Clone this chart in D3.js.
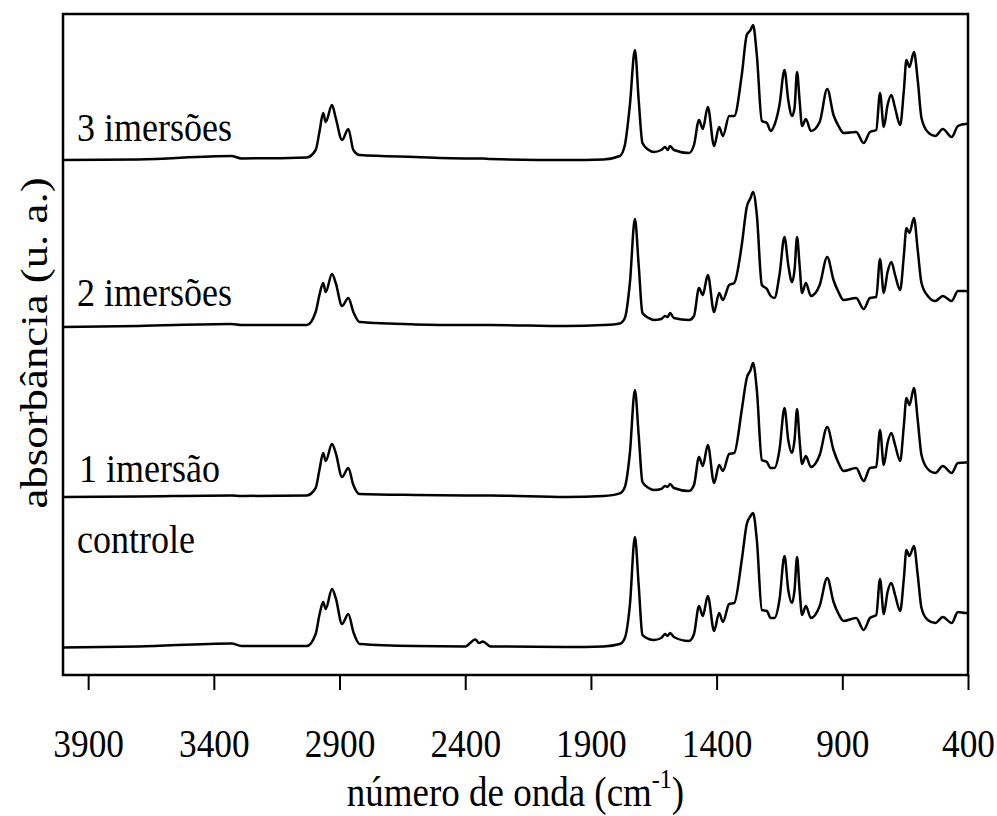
<!DOCTYPE html>
<html>
<head>
<meta charset="utf-8">
<script src="https://cdn.jsdelivr.net/npm/d3@7"></script>
<style>
body { margin: 0; background: #fff; }
svg { display: block; }
text { font-family: "Liberation Serif", "Times New Roman", serif; fill: #000; }
</style>
</head>
<body>
<svg id="chart" width="997" height="816"></svg>
<script>
// wavenumbers (cm-1) shared by every spectrum
const wavenumbers = [4000, 3700, 3330, 3290, 3030, 2995, 2980, 2965, 2955, 2930, 2915, 2890, 2865, 2845, 2820, 2600,
	2400, 2360, 2345, 2330, 2300, 2000, 1850, 1785, 1765, 1745, 1725, 1710, 1695, 1670, 1650, 1620, 1605, 1595, 1585, 1570,
	1510, 1490, 1470, 1455, 1435, 1410, 1390, 1375, 1350, 1330, 1300, 1280, 1265, 1255, 1240, 1220, 1200, 1185, 1170, 1150,
	1130, 1115, 1100, 1090, 1080, 1070, 1060, 1045, 1025, 990, 960, 935, 915, 895, 845, 815, 790, 765, 750, 735, 720, 705,
	690, 670, 655, 645, 633, 615, 600, 585, 560, 530, 500, 465, 440, 410, 400];

// absorbance (u. a.), already stacked as drawn
const controle = [0.138, 0.143, 0.158, 0.145, 0.145, 0.205, 0.300, 0.365, 0.330, 0.430, 0.385, 0.255, 0.305, 0.215, 0.155, 0.145,
	0.143, 0.178, 0.160, 0.168, 0.143, 0.140, 0.143, 0.155, 0.185, 0.350, 0.690, 0.450, 0.200, 0.180, 0.175, 0.185, 0.205, 0.195, 0.210, 0.190,
	0.170, 0.205, 0.345, 0.295, 0.395, 0.220, 0.310, 0.265, 0.355, 0.360, 0.575, 0.755, 0.795, 0.810, 0.675, 0.325, 0.320, 0.285, 0.285, 0.375,
	0.595, 0.425, 0.360, 0.425, 0.590, 0.425, 0.300, 0.345, 0.285, 0.345, 0.485, 0.365, 0.305, 0.270, 0.285, 0.225, 0.285, 0.300, 0.480, 0.305, 0.415, 0.460,
	0.400, 0.320, 0.485, 0.625, 0.595, 0.645, 0.500, 0.335, 0.275, 0.260, 0.290, 0.260, 0.315, 0.310, 0.310];
const imersao1 = [0.890, 0.893, 0.898, 0.895, 0.898, 0.935, 1.025, 1.110, 1.070, 1.155, 1.110, 0.990, 1.035, 0.950, 0.905, 0.900,
	0.898, 0.898, 0.898, 0.898, 0.898, 0.890, 0.895, 0.908, 0.940, 1.110, 1.425, 1.200, 0.965, 0.935, 0.925, 0.930, 0.945, 0.940, 0.955, 0.935,
	0.920, 0.950, 1.090, 1.045, 1.150, 0.960, 1.050, 1.020, 1.105, 1.110, 1.325, 1.485, 1.525, 1.560, 1.425, 1.075, 1.065, 1.035, 1.035, 1.125,
	1.335, 1.175, 1.110, 1.175, 1.330, 1.175, 1.055, 1.095, 1.040, 1.100, 1.240, 1.125, 1.060, 1.020, 1.035, 0.970, 1.035, 1.040, 1.225, 1.050, 1.160, 1.210,
	1.150, 1.070, 1.250, 1.385, 1.350, 1.435, 1.275, 1.100, 1.030, 1.010, 1.045, 1.010, 1.060, 1.063, 1.063];
const imersao2 = [1.740, 1.745, 1.755, 1.750, 1.750, 1.815, 1.900, 1.960, 1.915, 2.005, 1.960, 1.845, 1.885, 1.815, 1.765, 1.753,
	1.750, 1.750, 1.750, 1.750, 1.750, 1.745, 1.750, 1.758, 1.785, 1.960, 2.280, 2.050, 1.810, 1.785, 1.775, 1.780, 1.795, 1.790, 1.810, 1.785,
	1.775, 1.795, 1.935, 1.900, 2.000, 1.815, 1.910, 1.875, 1.950, 1.960, 2.150, 2.340, 2.385, 2.415, 2.300, 1.950, 1.930, 1.895, 1.885, 2.000,
	2.190, 2.050, 1.965, 2.025, 2.190, 2.050, 1.910, 1.960, 1.895, 1.950, 2.090, 1.975, 1.915, 1.875, 1.885, 1.830, 1.885, 1.890, 2.080, 1.910, 2.015, 2.065,
	2.000, 1.925, 2.100, 2.235, 2.210, 2.285, 2.125, 1.960, 1.895, 1.870, 1.895, 1.870, 1.920, 1.920, 1.918];
const imersao3 = [2.575, 2.578, 2.595, 2.583, 2.588, 2.625, 2.715, 2.810, 2.765, 2.850, 2.785, 2.675, 2.730, 2.625, 2.600, 2.590,
	2.583, 2.583, 2.583, 2.583, 2.580, 2.575, 2.578, 2.595, 2.650, 2.850, 3.125, 2.875, 2.660, 2.625, 2.615, 2.625, 2.640, 2.625, 2.645, 2.625,
	2.610, 2.650, 2.775, 2.730, 2.840, 2.645, 2.740, 2.695, 2.795, 2.795, 3.000, 3.200, 3.225, 3.250, 3.100, 2.770, 2.760, 2.720, 2.750, 2.850,
	3.025, 2.875, 2.795, 2.835, 3.015, 2.875, 2.745, 2.780, 2.720, 2.765, 2.930, 2.800, 2.745, 2.710, 2.715, 2.660, 2.715, 2.725, 2.910, 2.740, 2.850, 2.900,
	2.835, 2.750, 2.925, 3.075, 3.040, 3.115, 2.975, 2.785, 2.715, 2.695, 2.730, 2.690, 2.745, 2.755, 2.755];

const names = ['controle', '1 imersão', '2 imersões', '3 imersões'];
const tickValues = [3900, 3400, 2900, 2400, 1900, 1400, 900, 400];

let series = [controle, imersao1, imersao2, imersao3].map((v, i) => ({name: names[i], values: v}));

let svg = d3.select('#chart');
let mLeft = 63, mRight = 968, mTop = 14, mBottom = 675;
let stretch = 1.15;	// the original lettering is a bit taller than plain Times

let x = d3.scaleLinear().domain([4000, 400]).range([mLeft, mRight]);
let y = d3.scaleLinear().domain([0, 3.305]).range([mBottom, mTop]);

// spectra
let lineFn = d3.line().x((d, i) => x(wavenumbers[i])).y(d => y(d)).curve(d3.curveMonotoneX);
svg.append('g').selectAll('path').data(series).join('path')
	.attr('d', d => lineFn(d.values))
	.style('fill', 'none')
	.style('stroke', '#000')
	.style('stroke-width', '2.5px')
	.style('stroke-linejoin', 'round');

// frame
svg.append('rect').attr('x', mLeft).attr('y', mTop).attr('width', mRight - mLeft).attr('height', mBottom - mTop)
	.style('fill', 'none').style('stroke', '#000').style('stroke-width', '2.5px');

// x axis
let xAxis = svg.append('g').attr('transform', `translate(0, ${mBottom})`)
	.call(d3.axisBottom(x).tickValues(tickValues).tickSize(15).tickFormat(d3.format('d')));
xAxis.select('.domain').remove();
xAxis.selectAll('line').style('stroke', '#000').style('stroke-width', '2px');
xAxis.selectAll('text').attr('y', 0).attr('dy', null)
	.attr('transform', `translate(0, 82) scale(1.04, ${stretch + 0.05})`)
	.style('font-size', '34px')
	.style('font-family', '"Liberation Serif", "Times New Roman", serif');

// trace labels (baseline positions)
let labelY = {'controle': 553, '1 imersão': 482, '2 imersões': 306, '3 imersões': 141};
svg.append('g').selectAll('text').data(series).join('text')
	.attr('transform', d => `translate(${d.name == '1 imersão' ? 79 : 77}, ${labelY[d.name]}) scale(1, 1.1)`)
	.style('font-size', '36px')
	.text(d => d.name);

// axis titles
svg.append('text').attr('transform', `translate(47, 343) rotate(-90) scale(${stretch}, 1)`)
	.attr('text-anchor', 'middle').style('font-size', '39px')
	.text('absorbância (u. a.)');

let xt = svg.append('text').attr('transform', `translate(${(mLeft + mRight) / 2}, 806) scale(1, ${stretch})`)
	.attr('text-anchor', 'middle').style('font-size', '37px');
xt.append('tspan').text('número de onda (cm');
xt.append('tspan').attr('dy', -16).style('font-size', '24px').text('-1');
xt.append('tspan').attr('dy', 16).text(')');
</script>
</body>
</html>
